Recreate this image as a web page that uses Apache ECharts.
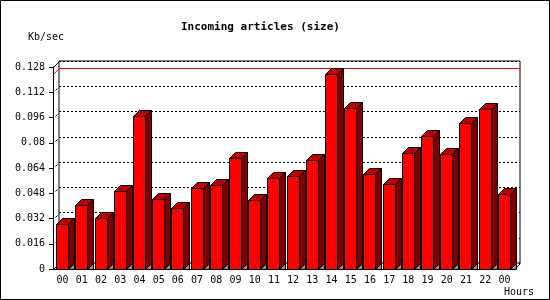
<!DOCTYPE html>
<html>
<head>
<meta charset="utf-8">
<script src="https://cdn.jsdelivr.net/npm/echarts@6/dist/echarts.min.js"></script>
<style>
html,body{margin:0;padding:0;background:#fff;}
#chart{width:550px;height:300px;}
</style>
</head>
<body>
<div id="chart"></div>
<script>
// ---- data ----
const categories = ['00','01','02','03','04','05','06','07','08','09','10','11',
                    '12','13','14','15','16','17','18','19','20','21','22','00'];
const values = [0.0283,0.0406,0.0321,0.0493,0.0968,0.0442,0.0385,0.0512,0.0531,0.0702,0.0436,0.0575,
                0.0590,0.0689,0.1234,0.1019,0.0600,0.0537,0.0733,0.0841,0.0727,0.0923,0.1014,0.0475];
const yTicks = [0,0.016,0.032,0.048,0.064,0.08,0.096,0.112,0.128];
const titleText = 'Incoming articles (size)';
const yUnit = 'Kb/sec';
const xUnit = 'Hours';

// ---- style ----
const D = 6;          // 3D depth in px
const BW = 12;        // bar front width
const FONT = 'DejaVu Sans Mono';
const maxVal = Math.max(...values);

const chart = echarts.init(document.getElementById('chart'), null, {renderer:'canvas'});

function renderBar(params, api) {
  const i = api.value(0), v = api.value(1);
  const t = api.coord([i, v]);
  const b = api.coord([i, 0]);
  const xl = Math.floor(t[0] - BW/2) + 0.5;
  const xr = xl + BW;
  const yt = Math.round(t[1]) + 0.5;
  const yb = Math.round(b[1]) + 0.5;
  const stroke = {stroke:'#000', lineWidth:1};
  return {
    type:'group',
    children:[
      {type:'polygon', shape:{points:[[xr,yb],[xr+D,yb-D],[xr+D,yb]]}, style:{fill:'#8c8c8c', stroke:'#000', lineWidth:1}},
      {type:'polygon', shape:{points:[[xr,yb],[xr,yt],[xr+D,yt-D],[xr+D,yb-D]]}, style:Object.assign({fill:'#800000'}, stroke)},
      {type:'polygon', shape:{points:[[xl,yt],[xl+D,yt-D],[xr+D,yt-D],[xr,yt]]}, style:Object.assign({fill:'#c00000'}, stroke)},
      {type:'rect', shape:{x:xl, y:yt, width:BW, height:yb-yt}, style:Object.assign({fill:'#ff0000'}, stroke)}
    ]
  };
}

function renderDecor(params, api) {
  const n = categories.length;
  const cw = api.size([1, 0])[0];
  const left = Math.round(api.coord([0, 0])[0] - cw/2) + 0.5;
  const right = Math.round(api.coord([n-1, 0])[0] + cw/2) + 0.5;
  const y0 = Math.round(api.coord([0, 0])[1]) + 0.5;
  const yTop = Math.round(api.coord([0, yTicks[yTicks.length-1]])[1]) + 0.5;
  const ym = Math.round(api.coord([0, maxVal])[1]) + 0.5;
  const blk = {stroke:'#000', lineWidth:1, fill:null};
  const children = [
    {type:'line', shape:{x1:left, y1:yTop, x2:left+D, y2:yTop-D}, style:blk},
    {type:'line', shape:{x1:left, y1:y0, x2:left+D, y2:y0-D}, style:blk},
    {type:'line', shape:{x1:right, y1:y0, x2:right+D, y2:y0-D}, style:blk},
    {type:'polyline', shape:{points:[[left, ym],[left+D, ym-D],[right+D, ym-D]]}, style:{stroke:'#ff0000', lineWidth:1, fill:null}}
  ];
  for (let k = 1; k < yTicks.length-1; k++) {
    const y = Math.round(api.coord([0, yTicks[k]])[1]) + 0.5;
    children.push({type:'line', shape:{x1:left+2, y1:y-2, x2:left+4, y2:y-4}, style:blk});
  }
  return {type:'group', children};
}

const option = {
  animation:false,
  backgroundColor:'#fff',
  title:{
    text:titleText, left:181, top:22, padding:0,
    textStyle:{fontFamily:FONT, fontWeight:'bold', fontSize:11, color:'#000'}
  },
  graphic:[
    {type:'rect', shape:{x:0.5, y:0.5, width:549, height:299}, style:{fill:null, stroke:'#000', lineWidth:1}, silent:true},
    {type:'text', left:28, top:32, style:{text:yUnit, font:'10px "DejaVu Sans Mono"', fill:'#000'}},
    {type:'text', left:504, top:287, style:{text:xUnit, font:'10px "DejaVu Sans Mono"', fill:'#000'}}
  ],
  grid:[
    {left:53, right:36, top:67, bottom:31, show:false},
    {left:59, right:30, top:61, bottom:37, show:true, borderColor:'#000', borderWidth:1, backgroundColor:'transparent'}
  ],
  xAxis:[
    {type:'category', gridIndex:0, data:categories, boundaryGap:true,
     axisLine:{lineStyle:{color:'#000', width:1}},
     axisTick:{length:4, lineStyle:{color:'#000'}},
     axisLabel:{interval:0, margin:6, color:'#000', fontFamily:FONT, fontSize:10}},
    {type:'category', gridIndex:1, data:categories, show:false}
  ],
  yAxis:[
    {type:'value', gridIndex:0, min:0, max:0.128, interval:0.016,
     axisLine:{show:true, lineStyle:{color:'#000', width:1}},
     axisTick:{show:true, length:4, lineStyle:{color:'#000'}},
     splitLine:{show:false},
     axisLabel:{margin:8, color:'#000', fontFamily:FONT, fontSize:10,
                formatter:v => String(+v.toFixed(3))}},
    {type:'value', gridIndex:1, min:0, max:0.128, interval:0.016,
     axisLine:{show:false}, axisTick:{show:false}, axisLabel:{show:false},
     splitLine:{show:true, lineStyle:{color:'#000', width:1, type:[2,2]}}}
  ],
  series:[
    {type:'custom', name:'frame', xAxisIndex:0, yAxisIndex:0, z:1, silent:true,
     renderItem:renderDecor, data:[[0, 0]]},
    {type:'custom', name:'size', xAxisIndex:0, yAxisIndex:0, z:3, silent:true,
     renderItem:renderBar, data:values.map((v, i) => [i, v])}
  ]
};
chart.setOption(option);
</script>
</body>
</html>
